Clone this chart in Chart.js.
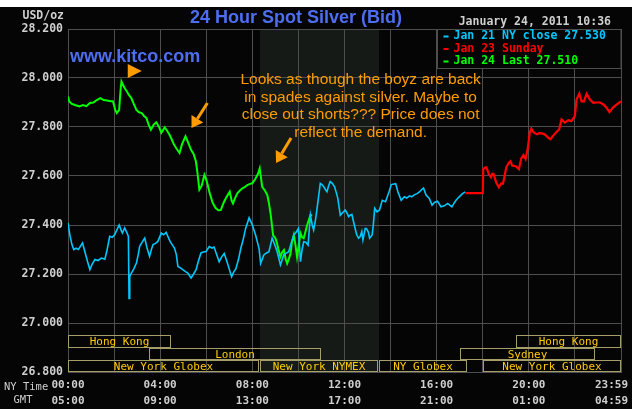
<!DOCTYPE html>
<html>
<head>
<meta charset="utf-8">
<script src="https://cdn.jsdelivr.net/npm/chart.js@4.4.1/dist/chart.umd.min.js"></script>
<style>
body { margin: 0; background: #fff; }
#chart { display: block; }
</style>
</head>
<body>
<canvas id="chart" width="636" height="409"></canvas>
<script>
// silver bid, time in hours of the NY day
var jan21Times = [0.00,0.08,0.17,0.25,0.35,0.45,0.55,0.63,0.73,0.85,0.95,1.05,1.17,1.30,1.45,1.60,1.70,1.81,1.92,2.03,
  2.12,2.22,2.30,2.36,2.46,2.55,2.62,2.65,2.68,2.75,2.85,2.97,3.05,3.11,3.22,3.33,3.43,3.54,3.62,3.69,
  3.80,3.90,4.05,4.15,4.26,4.35,4.43,4.52,4.62,4.70,4.77,4.88,4.98,5.10,5.20,5.34,5.45,5.56,5.65,5.77,
  5.88,5.99,6.13,6.25,6.34,6.45,6.56,6.67,6.78,6.90,6.99,7.10,7.20,7.28,7.40,7.50,7.60,7.71,7.86,7.93,
  8.00,8.14,8.22,8.29,8.36,8.43,8.50,8.60,8.72,8.86,9.00,9.08,9.15,9.22,9.30,9.37,9.48,9.58,9.70,9.80,
  9.90,10.00,10.09,10.16,10.23,10.32,10.42,10.52,10.60,10.66,10.74,10.81,10.88,10.95,11.02,11.10,11.17,11.24,11.31,11.38,
  11.47,11.57,11.65,11.71,11.77,11.82,11.92,12.03,12.10,12.18,12.25,12.32,12.40,12.46,12.53,12.61,12.68,12.75,12.80,12.90,
  12.95,13.04,13.09,13.20,13.25,13.31,13.41,13.52,13.64,13.78,13.93,14.03,14.22,14.32,14.46,14.60,14.70,14.82,14.92,15.04,
  15.15,15.25,15.35,15.43,15.54,15.68,15.80,15.90,16.04,16.19,16.33,16.48,16.58,16.66,16.76,16.84,16.98,17.12,17.24];
var jan21Prices = [27.408,27.360,27.320,27.300,27.305,27.300,27.315,27.327,27.292,27.250,27.218,27.240,27.259,27.255,27.265,27.260,27.300,27.354,27.350,27.361,
  27.380,27.400,27.380,27.367,27.388,27.370,27.354,27.100,27.190,27.204,27.220,27.245,27.280,27.313,27.330,27.347,27.306,27.272,27.300,27.320,
  27.325,27.333,27.367,27.360,27.370,27.350,27.333,27.320,27.306,27.280,27.231,27.225,27.218,27.210,27.204,27.184,27.200,27.218,27.250,27.286,
  27.290,27.292,27.312,27.306,27.310,27.280,27.250,27.270,27.284,27.250,27.223,27.189,27.210,27.220,27.260,27.305,27.340,27.386,27.430,27.415,
  27.400,27.359,27.330,27.305,27.243,27.260,27.278,27.285,27.291,27.346,27.312,27.290,27.264,27.237,27.260,27.280,27.285,27.291,27.330,27.359,
  27.370,27.386,27.250,27.300,27.332,27.330,27.318,27.440,27.400,27.380,27.420,27.468,27.520,27.570,27.565,27.556,27.545,27.536,27.560,27.577,
  27.570,27.556,27.530,27.509,27.470,27.440,27.450,27.461,27.450,27.434,27.440,27.443,27.410,27.386,27.360,27.346,27.353,27.373,27.339,27.386,
  27.386,27.370,27.346,27.359,27.400,27.468,27.454,27.461,27.501,27.495,27.535,27.565,27.569,27.535,27.501,27.515,27.510,27.519,27.515,27.524,
  27.528,27.535,27.545,27.551,27.522,27.508,27.481,27.492,27.497,27.474,27.478,27.488,27.480,27.474,27.490,27.501,27.515,27.528,27.535];

var jan23Times = [17.25,18.00,18.02,18.10,18.16,18.26,18.36,18.42,18.47,18.58,18.70,18.80,18.88,18.95,19.02,19.13,19.20,19.28,19.43,19.57,
  19.67,19.77,19.86,19.96,20.04,20.11,20.21,20.36,20.45,20.55,20.69,20.84,20.94,21.05,21.20,21.32,21.42,21.56,21.71,21.85,
  22.00,22.07,22.19,22.29,22.39,22.51,22.65,22.80,22.95,23.09,23.24,23.38,23.50,23.64,23.82,24.00];
var jan23Prices = [27.530,27.530,27.628,27.635,27.636,27.608,27.595,27.609,27.608,27.574,27.554,27.570,27.569,27.601,27.635,27.653,27.660,27.642,27.640,27.628,
  27.672,27.685,27.669,27.716,27.777,27.793,27.778,27.770,27.775,27.774,27.770,27.757,27.750,27.764,27.780,27.791,27.831,27.818,27.828,27.824,
  27.845,27.912,27.936,27.905,27.905,27.936,27.912,27.899,27.900,27.900,27.892,27.878,27.861,27.878,27.892,27.905];

var jan24Times = [0.00,0.05,0.15,0.30,0.50,0.65,0.80,0.95,1.10,1.25,1.40,1.55,1.70,1.85,1.95,2.05,2.12,2.22,2.28,2.32,
  2.45,2.55,2.65,2.75,2.85,2.97,3.08,3.20,3.30,3.40,3.50,3.60,3.72,3.83,3.95,4.05,4.20,4.30,4.40,4.50,
  4.60,4.72,4.84,4.95,5.10,5.22,5.34,5.45,5.55,5.62,5.70,5.80,5.92,6.00,6.06,6.15,6.28,6.40,6.52,6.63,
  6.75,6.85,6.95,7.02,7.10,7.16,7.25,7.35,7.45,7.57,7.68,7.78,7.90,8.00,8.14,8.25,8.32,8.38,8.43,8.55,
  8.65,8.72,8.80,8.90,9.00,9.06,9.12,9.22,9.30,9.37,9.45,9.51,9.58,9.66,9.72,9.80,9.87,9.94,10.02,10.09,
  10.16,10.23,10.30,10.38,10.45,10.52,10.60];
var jan24Prices = [27.925,27.905,27.895,27.890,27.884,27.890,27.885,27.898,27.900,27.910,27.918,27.910,27.908,27.905,27.905,27.870,27.857,27.870,27.950,27.986,
  27.960,27.946,27.930,27.918,27.895,27.870,27.860,27.857,27.845,27.837,27.810,27.789,27.810,27.819,27.800,27.776,27.799,27.785,27.769,27.750,
  27.728,27.710,27.694,27.730,27.762,27.735,27.707,27.690,27.660,27.612,27.544,27.560,27.605,27.585,27.565,27.530,27.490,27.470,27.460,27.461,
  27.490,27.509,27.525,27.536,27.500,27.488,27.510,27.529,27.540,27.550,27.555,27.563,27.568,27.570,27.590,27.610,27.631,27.590,27.556,27.540,
  27.522,27.490,27.440,27.359,27.346,27.330,27.305,27.270,27.290,27.298,27.260,27.243,27.260,27.284,27.330,27.359,27.320,27.270,27.320,27.366,
  27.350,27.346,27.370,27.400,27.420,27.440,27.440];

var seriesLabels = ['Jan 21 NY close 27.530', 'Jan 23 Sunday', 'Jan 24 Last 27.510'];

// x axis labels
var labelHours = [0, 4, 8, 12, 16, 20, 24];
var nyTimeLabels = ['00:00', '04:00', '08:00', '12:00', '16:00', '20:00', '23:59'];
var gmtLabels = ['05:00', '09:00', '13:00', '17:00', '21:00', '01:00', '04:59'];

// trading sessions (hours), row 0 top .. row 2 bottom
var sessionNames = ['Hong Kong', 'London', 'New York Globex', 'New York NYMEX', 'NY Globex', 'New York Globex', 'Sydney', 'Hong Kong'];
var sessionStart = [0, 3.5, 0, 8.33, 13.5, 18, 17, 19.45];
var sessionEnd = [4.48, 10.97, 8.28, 13.45, 17.3, 24, 22.88, 24];
var sessionRow = [0, 1, 2, 2, 2, 2, 1, 0];
var nymexHours = [8.33, 13.5];

var noteLines = ['Looks as though the boyz are back', 'in spades against silver. Maybe to',
  'close out shorts??? Price does not', 'reflect the demand.'];

var GRID = '#4e4e4e';
var MONO = '"DejaVu Sans Mono", monospace';
var ORANGE = '#ff9c00';

function pts(t, v) {
  var out = [];
  for (var i = 0; i < t.length; i++) out.push({ x: t[i], y: v[i] });
  return out;
}

function arrow(ctx, x0, y0, x1, y1) {
  var ang = Math.atan2(y1 - y0, x1 - x0);
  var hl = 11, hw = 7;
  var bx = x1 - hl * Math.cos(ang), by = y1 - hl * Math.sin(ang);
  ctx.strokeStyle = ORANGE; ctx.lineWidth = 3;
  ctx.beginPath(); ctx.moveTo(x0, y0); ctx.lineTo(bx, by); ctx.stroke();
  ctx.fillStyle = ORANGE;
  ctx.beginPath();
  ctx.moveTo(x1, y1);
  ctx.lineTo(bx + hw * Math.sin(ang), by - hw * Math.cos(ang));
  ctx.lineTo(bx - hw * Math.sin(ang), by + hw * Math.cos(ang));
  ctx.closePath(); ctx.fill();
}

var decor = {
  id: 'decor',
  beforeDraw: function(chart) {
    var ctx = chart.ctx, a = chart.chartArea, xs = chart.scales.x;
    ctx.save();
    ctx.fillStyle = '#fff';
    ctx.fillRect(0, 0, chart.width, chart.height);
    ctx.fillStyle = '#050505';
    ctx.fillRect(0, 7, 632, chart.height - 7);
    var x0 = xs.getPixelForValue(nymexHours[0]), x1 = xs.getPixelForValue(nymexHours[1]);
    ctx.fillStyle = '#161a16';
    ctx.fillRect(x0, a.top, x1 - x0, a.bottom - a.top);
    ctx.restore();
  },
  afterDraw: function(chart) {
    var ctx = chart.ctx, a = chart.chartArea, xs = chart.scales.x, ys = chart.scales.y;
    ctx.save();

    // titles
    ctx.textBaseline = 'middle';
    ctx.fillStyle = '#4d6ef0';
    ctx.font = 'bold 18px "Liberation Sans", Arial, sans-serif';
    ctx.textAlign = 'center';
    ctx.fillText('24 Hour Spot Silver (Bid)', 296, 18);
    ctx.textAlign = 'left';
    ctx.fillText('www.kitco.com', 70, 57);

    ctx.fillStyle = '#cfcfcf';
    ctx.font = 'bold 11.5px ' + MONO;
    ctx.textAlign = 'right';
    ctx.fillText('January 24, 2011 10:36', 611, 22);
    ctx.fillText('USD/oz', 64, 16);

    // x labels, two rows
    ctx.font = 'bold 11px ' + MONO;
    for (var i = 0; i < labelHours.length; i++) {
      var px = xs.getPixelForValue(labelHours[i]);
      var last = i === labelHours.length - 1;
      ctx.textAlign = last ? 'right' : 'center';
      var tx = last ? px + 7 : px;
      ctx.fillText(nyTimeLabels[i], tx, 385);
      ctx.fillText(gmtLabels[i], tx, 401);
    }
    ctx.font = '10.5px ' + MONO;
    ctx.textAlign = 'left';
    ctx.fillText('NY Time', 4, 387);
    ctx.textAlign = 'center';
    ctx.fillText('GMT', 23, 400);

    // trading sessions
    var rowTop = [26.95, 26.90, 26.85];
    ctx.lineWidth = 1;
    ctx.strokeStyle = '#a59e68';
    ctx.font = '11px ' + MONO;
    for (var s = 0; s < sessionNames.length; s++) {
      var sx0 = Math.round(xs.getPixelForValue(sessionStart[s])) + 0.5;
      var sx1 = Math.round(xs.getPixelForValue(sessionEnd[s])) - 0.5;
      var sy0 = Math.round(ys.getPixelForValue(rowTop[sessionRow[s]])) + 0.5;
      var sy1 = Math.round(ys.getPixelForValue(rowTop[sessionRow[s]] - 0.05)) - 0.5;
      ctx.strokeRect(sx0, sy0, sx1 - sx0, sy1 - sy0);
      ctx.fillStyle = '#ffcc00';
      ctx.textAlign = 'center';
      ctx.fillText(sessionNames[s], (sx0 + sx1) / 2, (sy0 + sy1) / 2 + 1);
    }

    // legend box
    var lx = Math.round(xs.getPixelForValue(16)) + 0.5;
    var ly = a.top + 0.5;
    ctx.fillStyle = '#050505';
    ctx.fillRect(lx, ly, a.right - lx, 39);
    ctx.strokeStyle = GRID;
    ctx.strokeRect(lx, ly, Math.round(a.right) - lx, 39);
    ctx.font = 'bold 11.5px ' + MONO;
    ctx.textAlign = 'left';
    chart.data.datasets.forEach(function(ds, k) {
      var yy = ly + 7 + k * 12.5;
      ctx.fillStyle = ds.borderColor;
      ctx.fillRect(lx + 6, yy - 1, 5, 2);
      ctx.fillText(ds.label, lx + 16, yy);
    });

    // annotation
    ctx.fillStyle = ORANGE;
    ctx.font = '15.5px "Liberation Sans", Arial, sans-serif';
    ctx.textAlign = 'center';
    var nx = xs.getPixelForValue(12.7), ny = ys.getPixelForValue(27.992);
    noteLines.forEach(function(t, k) { ctx.fillText(t, nx, ny + k * 17.6); });

    // arrows
    var tx0 = xs.getPixelForValue(3.2), ty0 = ys.getPixelForValue(28.029);
    ctx.beginPath();
    ctx.moveTo(tx0, ty0);
    ctx.lineTo(tx0 - 14, ty0 - 7);
    ctx.lineTo(tx0 - 14, ty0 + 7);
    ctx.closePath(); ctx.fill();
    arrow(ctx, xs.getPixelForValue(6.05), ys.getPixelForValue(27.898), xs.getPixelForValue(5.36), ys.getPixelForValue(27.796));
    arrow(ctx, xs.getPixelForValue(9.68), ys.getPixelForValue(27.755), xs.getPixelForValue(9.03), ys.getPixelForValue(27.653));

    ctx.restore();
  }
};

new Chart(document.getElementById('chart'), {
  type: 'line',
  data: {
    datasets: [
      { label: seriesLabels[0], data: pts(jan21Times, jan21Prices), borderColor: '#00c8ff', borderWidth: 1.6 },
      { label: seriesLabels[1], data: pts(jan23Times, jan23Prices), borderColor: '#ff0000', borderWidth: 2.2 },
      { label: seriesLabels[2], data: pts(jan24Times, jan24Prices), borderColor: '#00ff00', borderWidth: 2 }
    ]
  },
  options: {
    responsive: false,
    animation: false,
    devicePixelRatio: 1,
    layout: { padding: { top: 29, right: 15, left: 0, bottom: 0 } },
    elements: { point: { radius: 0 }, line: { tension: 0, borderJoinStyle: 'miter' } },
    plugins: { legend: { display: false }, tooltip: { enabled: false } },
    scales: {
      x: {
        type: 'linear', min: 0, max: 24,
        ticks: { stepSize: 2, display: false },
        grid: { color: GRID, drawTicks: false },
        border: { color: GRID },
        afterFit: function(s) { s.height = 37; }
      },
      y: {
        min: 26.8, max: 28.2,
        ticks: {
          stepSize: 0.2, padding: 5, color: '#cfcfcf',
          font: { family: MONO, size: 11.5, weight: 'bold' },
          callback: function(v) { return v.toFixed(3); }
        },
        grid: { color: GRID, drawTicks: false },
        border: { color: GRID },
        afterFit: function(s) { s.width = 68; }
      }
    }
  },
  plugins: [decor]
});
</script>
</body>
</html>
